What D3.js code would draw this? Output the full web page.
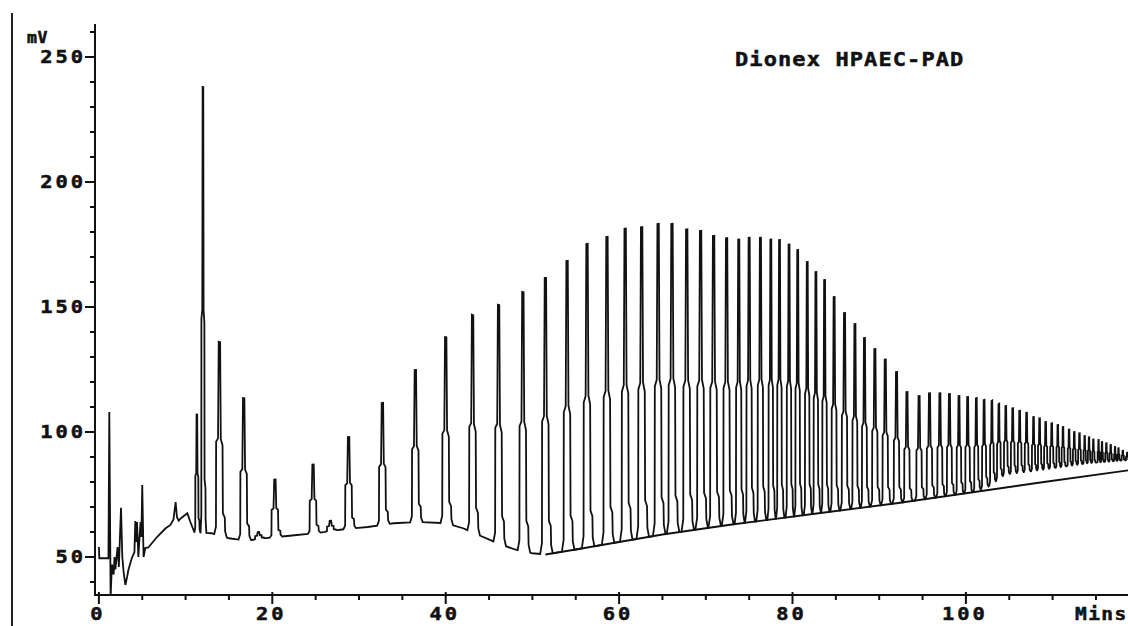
<!DOCTYPE html>
<html>
<head>
<meta charset="utf-8">
<script src="https://cdn.jsdelivr.net/npm/d3@7"></script>
<style>
body { margin: 0; background: #fff; }
svg { display: block; }
text { font-family: 'DejaVu Sans Mono', 'Liberation Mono', monospace; font-weight: bold; fill: #111; stroke: #111; stroke-width: 0.5px; }
</style>
</head>
<body>
<div id="chart"></div>
<script>
var chart_width = 1128;
var chart_height = 626;

// trace before the first oligomer peaks (min, mV)
var startT = [0, 0.05, 1.1, 1.2, 1.35, 1.5, 1.7, 1.8, 1.9, 2.15, 2.3, 2.55, 2.7, 2.85, 3.05, 3.25, 3.4, 3.8, 4.1, 4.2, 4.35, 4.4, 4.55, 4.8, 4.9, 5.0, 5.15, 5.35, 5.7, 6.7, 7.7, 8.25, 8.6, 8.85, 9.0, 9.2, 9.5, 10.2, 10.55, 11.0];
var startV = [54, 49.5, 49.5, 108, 34, 47, 43, 50, 45, 54, 46, 69.7, 50, 44, 38.8, 42, 44.8, 49.6, 52, 64.4, 56, 64, 50, 64, 58, 78.8, 50, 53.6, 53.8, 58, 61.5, 62.8, 65, 72, 66, 64.5, 65.6, 67.5, 64, 60];

// peak retention times (min) and apex heights (mV)
var peakT = [11.3, 12.0, 13.9, 16.7, 18.4, 20.3, 24.7, 26.7, 28.8, 32.7, 36.5, 40.0, 43.1, 46.1, 48.9, 51.5, 54.0, 56.3, 58.6, 60.7, 62.6, 64.5, 66.1, 67.8, 69.4, 70.9, 72.4, 73.8, 75.0, 76.3, 77.5, 78.5, 79.6, 80.6, 81.7, 82.7, 83.7, 84.8, 86.0, 87.2, 88.3, 89.5, 90.7, 92.0, 93.2, 94.6, 95.8, 97.0, 98.1, 99.2, 100.2, 101.2, 102.1, 103.0, 103.8, 104.6, 105.4, 106.2, 107.0, 107.8, 108.5, 109.2, 109.9, 110.6, 111.2, 111.9, 112.5, 113.1, 113.7, 114.2, 114.7, 115.3, 115.7, 116.2, 116.7, 117.2, 117.6, 118.1, 118.6];
var peakH = [107, 238, 136, 113.5, 60, 81, 87, 64.5, 98, 111.6, 124.8, 138, 146.8, 150.8, 156, 161.6, 168.4, 175.2, 178, 181.3, 181.9, 183.2, 183.2, 181, 180.4, 178.4, 177.5, 177, 177.7, 177.7, 177, 176.8, 175, 172.8, 168, 164, 160.8, 154, 147.6, 143.2, 137.6, 133.2, 129, 124, 116, 114.4, 115.5, 115.5, 115.2, 114.4, 114, 113.5, 112.8, 112.5, 111.2, 110.4, 109.5, 108.5, 107.7, 106, 105.5, 104, 103.5, 102.8, 102, 101, 100, 99.5, 98.4, 97.9, 97, 96.8, 96, 95.5, 94.8, 94, 93.5, 92.5, 91.7];

// signal floor between peaks
var floorT = [11.0, 13, 15, 17, 19, 22, 25, 28, 31, 34, 37, 40, 42, 44, 46, 48, 50, 51.5, 55, 65, 73, 83, 92, 101, 102.5, 104.5, 109, 114, 119.5];
var floorV = [60, 59.5, 57.5, 56.5, 57.5, 58.5, 59.5, 61, 62, 63.5, 64, 63.5, 61.5, 58.5, 55.5, 53, 51.5, 51, 53, 59, 63, 67.5, 71.5, 76, 78, 83, 85, 87.5, 89];

// integrator baseline
var baseT = [51.5, 55, 65, 73, 83, 92, 101, 109, 119.5];
var baseV = [51, 53, 59, 63, 67.5, 71.5, 76, 80, 85];

// tick labels
var yLabels = [50, 100, 150, 200, 250];
var xLabels = [0, 20, 40, 60, 80, 100];

// peak outline (offset in min, fraction of height)
var shapeDT = [-0.6, -0.4, -0.38, -0.16, -0.08, 0.08, 0.16, 0.36, 0.4, 0.62, 0.66, 0.85];
var shapeF = [0, 0.04, 0.48, 0.5, 1, 1, 0.5, 0.47, 0.12, 0.1, 0.03, 0];

var svg = d3.select('#chart')
	.append('svg')
	.attr('width', chart_width)
	.attr('height', chart_height);

svg.append('rect').attr('width', chart_width).attr('height', chart_height).attr('fill', '#fff');

var x_scale = d3.scaleLinear().domain([-0.45, 119.4]).range([95, 95 + 8.67 * 119.85]);
var y_scale = d3.scaleLinear().domain([50, 250]).range([557, 57]);
var floor = d3.scaleLinear().domain(floorT).range(floorV).clamp(true);

// wide pixel-style label
function label(g, x, y, txt, size, spacing, sx, anchor) {
	return g.append('text')
		.attr('transform', 'translate(' + x + ',' + y + ') scale(' + sx + ',1)')
		.attr('text-anchor', anchor)
		.attr('font-size', size)
		.attr('letter-spacing', spacing)
		.text(txt);
}

// left frame edge
svg.append('line')
	.attr('x1', 12).attr('x2', 12).attr('y1', 13).attr('y2', chart_height)
	.attr('stroke', '#222').attr('stroke-width', 2);

// y axis
var yTop = 24, yBot = 595;
svg.append('line')
	.attr('x1', 95).attr('x2', 95).attr('y1', yTop).attr('y2', yBot + 1)
	.attr('stroke', '#111').attr('stroke-width', 2);

var yMinor = d3.range(40, 261, 10);
svg.append('g').selectAll('line')
	.data(yMinor)
	.enter()
	.append('line')
	.attr('x1', function(d){ return d % 50 == 0 ? 85 : 90; })
	.attr('x2', 95)
	.attr('y1', function(d){ return y_scale(d); })
	.attr('y2', function(d){ return y_scale(d); })
	.attr('stroke', '#111').attr('stroke-width', 2);

var yg = svg.append('g');
yLabels.forEach(function(d){
	label(yg, 86, y_scale(d) + 6, d, 17, 2.5, 1.2, 'end');
});

label(svg, 27, 43, 'mV', 15, 0.5, 1.1, 'start');

// x axis
svg.append('line')
	.attr('x1', 95).attr('x2', chart_width).attr('y1', yBot).attr('y2', yBot)
	.attr('stroke', '#111').attr('stroke-width', 2);

var xMinor = d3.range(0, 120, 5);
svg.append('g').selectAll('line')
	.data(xMinor)
	.enter()
	.append('line')
	.attr('x1', function(d){ return x_scale(d); })
	.attr('x2', function(d){ return x_scale(d); })
	.attr('y1', function(d){ return d % 20 == 0 ? yBot - 3 : yBot; })
	.attr('y2', function(d){ return d % 20 == 0 ? yBot + 9 : yBot + 5; })
	.attr('stroke', '#111').attr('stroke-width', 2);

var xg = svg.append('g');
xLabels.forEach(function(d){
	label(xg, x_scale(d) - 1, 620, d, 17, 2.5, 1.2, 'middle');
});

label(svg, 1075, 620, 'Mins', 17, 1.2, 1.15, 'start');

label(svg, 735, 66, 'Dionex HPAEC-PAD', 20, 1, 1.1, 'start');

// build the detector trace
var pts = [];
for (var i = 0; i < startT.length; i++) pts.push([startT[i], startV[i]]);
var lastT = startT[startT.length - 1];

function addFloor(from, to) {
	floorT.forEach(function(t){
		if (t > from && t < to) pts.push([t, floor(t)]);
	});
}

for (var p = 0; p < peakT.length; p++) {
	var T = peakT[p];
	var gapL = p > 0 ? T - peakT[p - 1] : 2;
	var gapR = p < peakT.length - 1 ? peakT[p + 1] - T : 2;
	var s = Math.min(1, Math.min(gapL, gapR) / 1.5);
	var base0 = floor(T);
	addFloor(lastT, T + shapeDT[0] * s);
	for (var k = 0; k < shapeDT.length; k++) {
		var t = T + shapeDT[k] * s;
		pts.push([t, floor(t) + shapeF[k] * (peakH[p] - base0)]);
	}
	lastT = T + shapeDT[shapeDT.length - 1] * s;
}
addFloor(lastT, 200);
pts.push([119.5, floor(119.5)]);

var line = d3.line()
	.x(function(d){ return x_scale(d[0]); })
	.y(function(d){ return y_scale(d[1]); });

svg.append('clipPath').attr('id', 'plot')
	.append('rect').attr('x', 96).attr('y', 0).attr('width', chart_width - 96).attr('height', yBot + 1);

svg.append('path')
	.datum(baseT.map(function(t, i){ return [t, baseV[i]]; }))
	.attr('d', line)
	.attr('fill', 'none')
	.attr('stroke', '#111')
	.attr('stroke-width', 1.8)
	.attr('clip-path', 'url(#plot)');

svg.append('path')
	.datum(pts)
	.attr('d', line)
	.attr('fill', 'none')
	.attr('stroke', '#111')
	.attr('stroke-width', 1.8)
	.attr('stroke-linejoin', 'miter')
	.attr('clip-path', 'url(#plot)');
</script>
</body>
</html>
